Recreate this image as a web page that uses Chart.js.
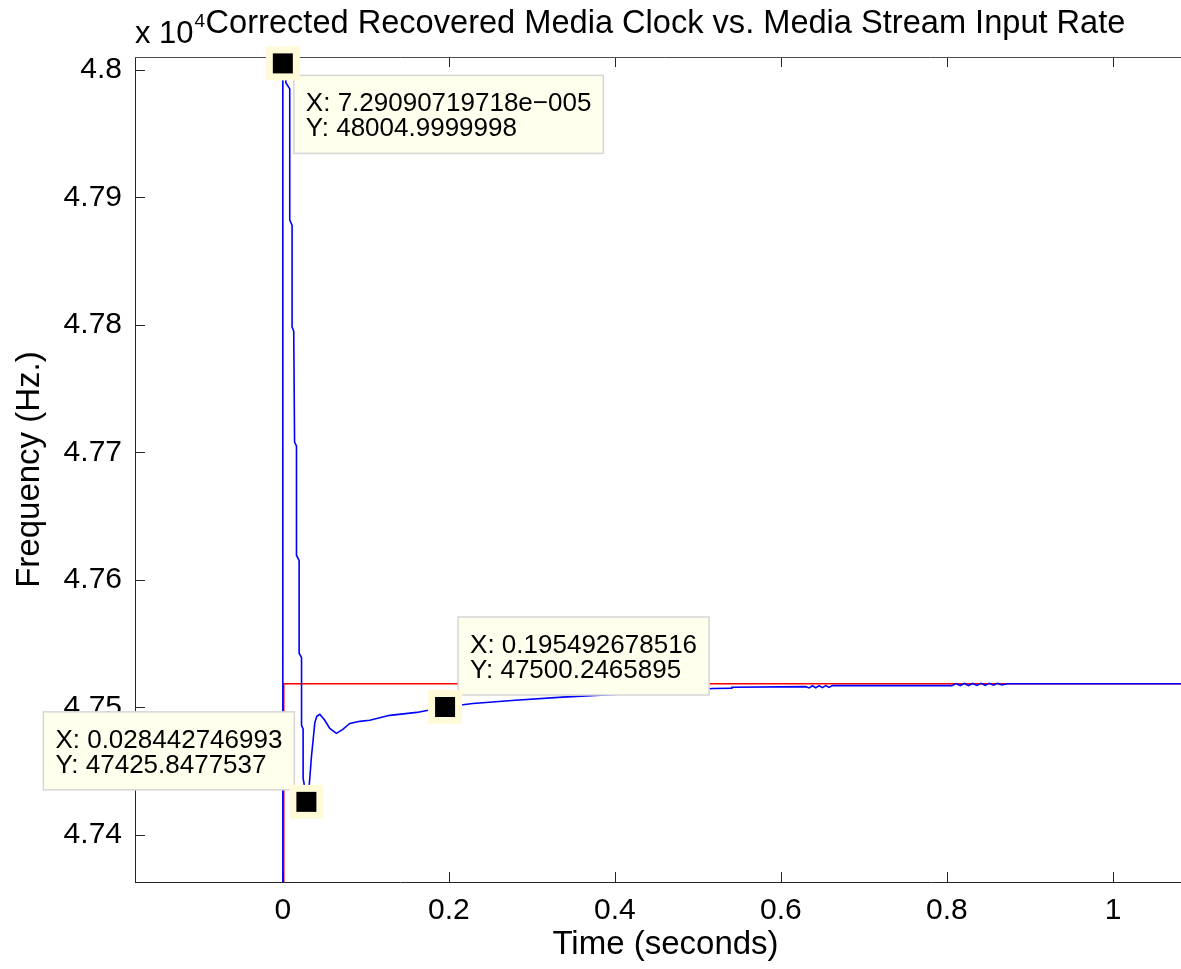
<!DOCTYPE html>
<html>
<head>
<meta charset="utf-8">
<title>Corrected Recovered Media Clock vs. Media Stream Input Rate</title>
<script src="https://cdn.jsdelivr.net/npm/chart.js@4.4.0/dist/chart.umd.min.js"></script>
<style>
  html, body { margin: 0; padding: 0; background: #fff; overflow: hidden; }
  #wrap { position: relative; width: 1196px; height: 969px; }
</style>
</head>
<body>
<div id="wrap"><canvas id="clockChart" width="1196" height="969"></canvas></div>
<script>
// recovered media clock (seconds, Hz)
const timeRecovered = [
  -0.0004, 0.0000729090719718, 0.0036, 0.0037, 0.0084, 0.0084, 0.0112, 0.0112,
  0.0132, 0.0142, 0.0165, 0.0165, 0.0197, 0.0197, 0.0226, 0.0226,
  0.0245, 0.0245, 0.0265, 0.028442746993, 0.0303, 0.0325, 0.0345, 0.0365,
  0.0386, 0.0410, 0.0446, 0.0506, 0.0566, 0.0646, 0.0723, 0.0807,
  0.0928, 0.1048, 0.1289, 0.1614, 0.195492678516, 0.229, 0.28, 0.337,
  0.40, 0.46, 0.518, 0.54, 0.541, 0.63,
  0.634, 0.638, 0.642, 0.646, 0.650, 0.654, 0.658, 0.662, 0.667,
  0.806, 0.811, 0.816, 0.821, 0.826, 0.831, 0.836, 0.841, 0.846, 0.851,
  0.856, 0.861, 0.866, 0.873, 1.1
];
const freqRecovered = [
  47300, 48004.9999998, 48004.7, 47989.8, 47985, 47882.3, 47878, 47798.3,
  47795, 47708, 47705, 47619.3, 47615, 47542.4, 47539, 47485.9,
  47483, 47444.3, 47437, 47425.8477537, 47427, 47444, 47461, 47474,
  47488, 47493, 47494.5, 47489.8, 47483.5, 47479.6, 47482.7, 47487.4,
  47489, 47489.8, 47493.7, 47496, 47500.2465895, 47503, 47505.5, 47508,
  47510, 47512, 47514.7, 47515, 47515.7, 47516.2,
  47515.2, 47516.9, 47515.3, 47516.9, 47515.4, 47517, 47515.6, 47517, 47517,
  47517, 47518.6, 47517.1, 47518.7, 47517.1, 47518.7, 47517.2, 47518.8, 47517.3, 47518.8,
  47517.4, 47518.8, 47517.6, 47518.5, 47518.5
];

// media stream input rate (seconds, Hz)
const timeInput = [0.0012, 0.0012, 1.1];
const freqInput = [47300, 47518.5, 47518.5];

// data cursors
const tipX = [0.0000729090719718, 0.028442746993, 0.195492678516];
const tipY = [48004.9999998, 47425.8477537, 47500.2465895];

const xTicks = [0, 0.2, 0.4, 0.6, 0.8, 1];
const xTickLabels = ['0', '0.2', '0.4', '0.6', '0.8', '1'];
const yTicks = [47400, 47500, 47600, 47700, 47800, 47900, 48000];
const yTickLabels = ['4.74', '4.75', '4.76', '4.77', '4.78', '4.79', '4.8'];

const FONT = "'Liberation Sans', Arial, Helvetica, sans-serif";
const AXIS_COLOR = '#262626';

// matlab-style number text: 12 significant digits, e-005 style exponent
function numText(v) {
  if (v !== 0 && Math.abs(v) < 1e-4) {
    const parts = v.toExponential(11).split('e');
    const e = parseInt(parts[1], 10);
    return parts[0] + 'e' + (e < 0 ? '\u2212' : '+') + String(Math.abs(e)).padStart(3, '0');
  }
  return String(parseFloat(v.toPrecision(12)));
}

const toPoints = (xs, ys) => xs.map((x, i) => ({ x: x, y: ys[i] }));

// inward ticks and the top edge of the box
const axesFrame = {
  id: 'axesFrame',
  afterDatasetsDraw(chart) {
    const { ctx, chartArea: a, scales: { x, y } } = chart;
    const len = 10;
    ctx.save();
    ctx.strokeStyle = AXIS_COLOR;
    ctx.lineWidth = 1;
    ctx.beginPath();
    xTicks.forEach(v => {
      const px = Math.round(x.getPixelForValue(v)) + 0.5;
      ctx.moveTo(px, a.bottom); ctx.lineTo(px, a.bottom - len);
      ctx.moveTo(px, a.top); ctx.lineTo(px, a.top + len);
    });
    yTicks.forEach(v => {
      const py = Math.round(y.getPixelForValue(v)) + 0.5;
      ctx.moveTo(a.left, py); ctx.lineTo(a.left + len, py);
    });
    ctx.stroke();
    ctx.strokeStyle = '#4d4d4d';
    ctx.beginPath();
    ctx.moveTo(a.left, Math.round(a.top) + 0.5);
    ctx.lineTo(a.right, Math.round(a.top) + 0.5);
    ctx.stroke();
    ctx.restore();
  },
  afterDraw(chart) {
    // axis exponent, drawn over the title like the original axes
    const { ctx, chartArea: a } = chart;
    ctx.save();
    ctx.fillStyle = '#000';
    ctx.textBaseline = 'alphabetic';
    ctx.textAlign = 'left';
    ctx.font = '31px ' + FONT;
    const base = 'x 10';
    ctx.fillText(base, a.left, 43);
    const w = ctx.measureText(base).width;
    ctx.font = '19px ' + FONT;
    ctx.fillText('4', a.left + w + 1, 27);
    ctx.restore();
  }
};

// data cursor boxes
const dataTips = {
  id: 'dataTips',
  afterDraw(chart) {
    const { ctx, scales: { x, y } } = chart;
    ctx.save();
    ctx.font = '26px ' + FONT;
    tipX.forEach((tx, i) => {
      const px = x.getPixelForValue(tx);
      const py = y.getPixelForValue(tipY[i]);
      const lines = ['X: ' + numText(tx), 'Y: ' + numText(tipY[i])];
      const w = Math.max(...lines.map(s => ctx.measureText(s).width)) + 24;
      const h = 78;
      let bx, by;
      if (i === 0) { bx = px + 11; by = py + 12; }
      else if (i === 1) { bx = px - 12 - w; by = py - 12 - h; }
      else { bx = px + 13; by = py - 12 - h; }

      ctx.fillStyle = '#ffffee';
      ctx.fillRect(bx, by, w, h);
      ctx.strokeStyle = '#d6d6d6';
      ctx.lineWidth = 1.5;
      ctx.strokeRect(bx, by, w, h);
      ctx.fillStyle = '#000';
      ctx.textAlign = 'left';
      ctx.textBaseline = 'alphabetic';
      ctx.fillText(lines[0], bx + 12, by + 36);
      ctx.fillText(lines[1], bx + 12, by + 61);

      ctx.fillStyle = '#fffbd8';
      ctx.fillRect(px - 17, py - 17, 34, 34);
      ctx.fillStyle = '#000';
      ctx.fillRect(px - 10, py - 10, 20, 20);
    });
    ctx.restore();
  }
};

const ctx = document.getElementById('clockChart').getContext('2d');
new Chart(ctx, {
  type: 'scatter',
  data: {
    datasets: [
      {
        label: 'Recovered media clock',
        data: toPoints(timeRecovered, freqRecovered),
        showLine: true,
        borderColor: '#0000ff',
        borderWidth: 1.6,
        pointRadius: 0,
        fill: false,
        tension: 0
      },
      {
        label: 'Media stream input rate',
        data: toPoints(timeInput, freqInput),
        showLine: true,
        borderColor: '#ff0000',
        borderWidth: 1.5,
        pointRadius: 0,
        fill: false,
        tension: 0
      }
    ]
  },
  options: {
    responsive: false,
    animation: false,
    devicePixelRatio: 1,
    layout: { padding: { left: 0, right: 0, top: 0, bottom: 0 } },
    plugins: {
      legend: { display: false },
      tooltip: { enabled: false },
      title: {
        display: true,
        fullSize: false,
        text: 'Corrected Recovered Media Clock vs. Media Stream Input Rate',
        color: '#000',
        font: { family: FONT, size: 32.6, weight: 'normal', lineHeight: 1.2 },
        padding: { top: 4, bottom: 13.9 }
      }
    },
    scales: {
      x: {
        type: 'linear',
        min: -0.178,
        max: 1.1,
        afterBuildTicks: s => { s.ticks = xTicks.map(v => ({ value: v })); },
        afterFit: s => { s.height = 87; },
        ticks: {
          autoSkip: false,
          maxRotation: 0,
          padding: 11,
          color: '#000',
          font: { family: FONT, size: 30 },
          callback: (v, i) => xTickLabels[i]
        },
        grid: { display: false, drawTicks: false },
        border: { display: true, color: AXIS_COLOR, width: 1 },
        title: {
          display: true,
          text: 'Time (seconds)',
          color: '#000',
          font: { family: FONT, size: 33 },
          padding: { top: 0, bottom: 4 }
        }
      },
      y: {
        type: 'linear',
        min: 47363,
        max: 48010,
        afterBuildTicks: s => { s.ticks = yTicks.map(v => ({ value: v })); },
        afterFit: s => { s.width = 135; },
        ticks: {
          autoSkip: false,
          padding: 13,
          color: '#000',
          font: { family: FONT, size: 30 },
          callback: (v, i) => yTickLabels[i]
        },
        grid: { display: false, drawTicks: false },
        border: { display: true, color: AXIS_COLOR, width: 1 },
        title: {
          display: true,
          text: 'Frequency (Hz.)',
          color: '#000',
          font: { family: FONT, size: 33 },
          padding: { top: 10, bottom: 0 }
        }
      }
    }
  },
  plugins: [axesFrame, dataTips]
});
</script>
</body>
</html>
